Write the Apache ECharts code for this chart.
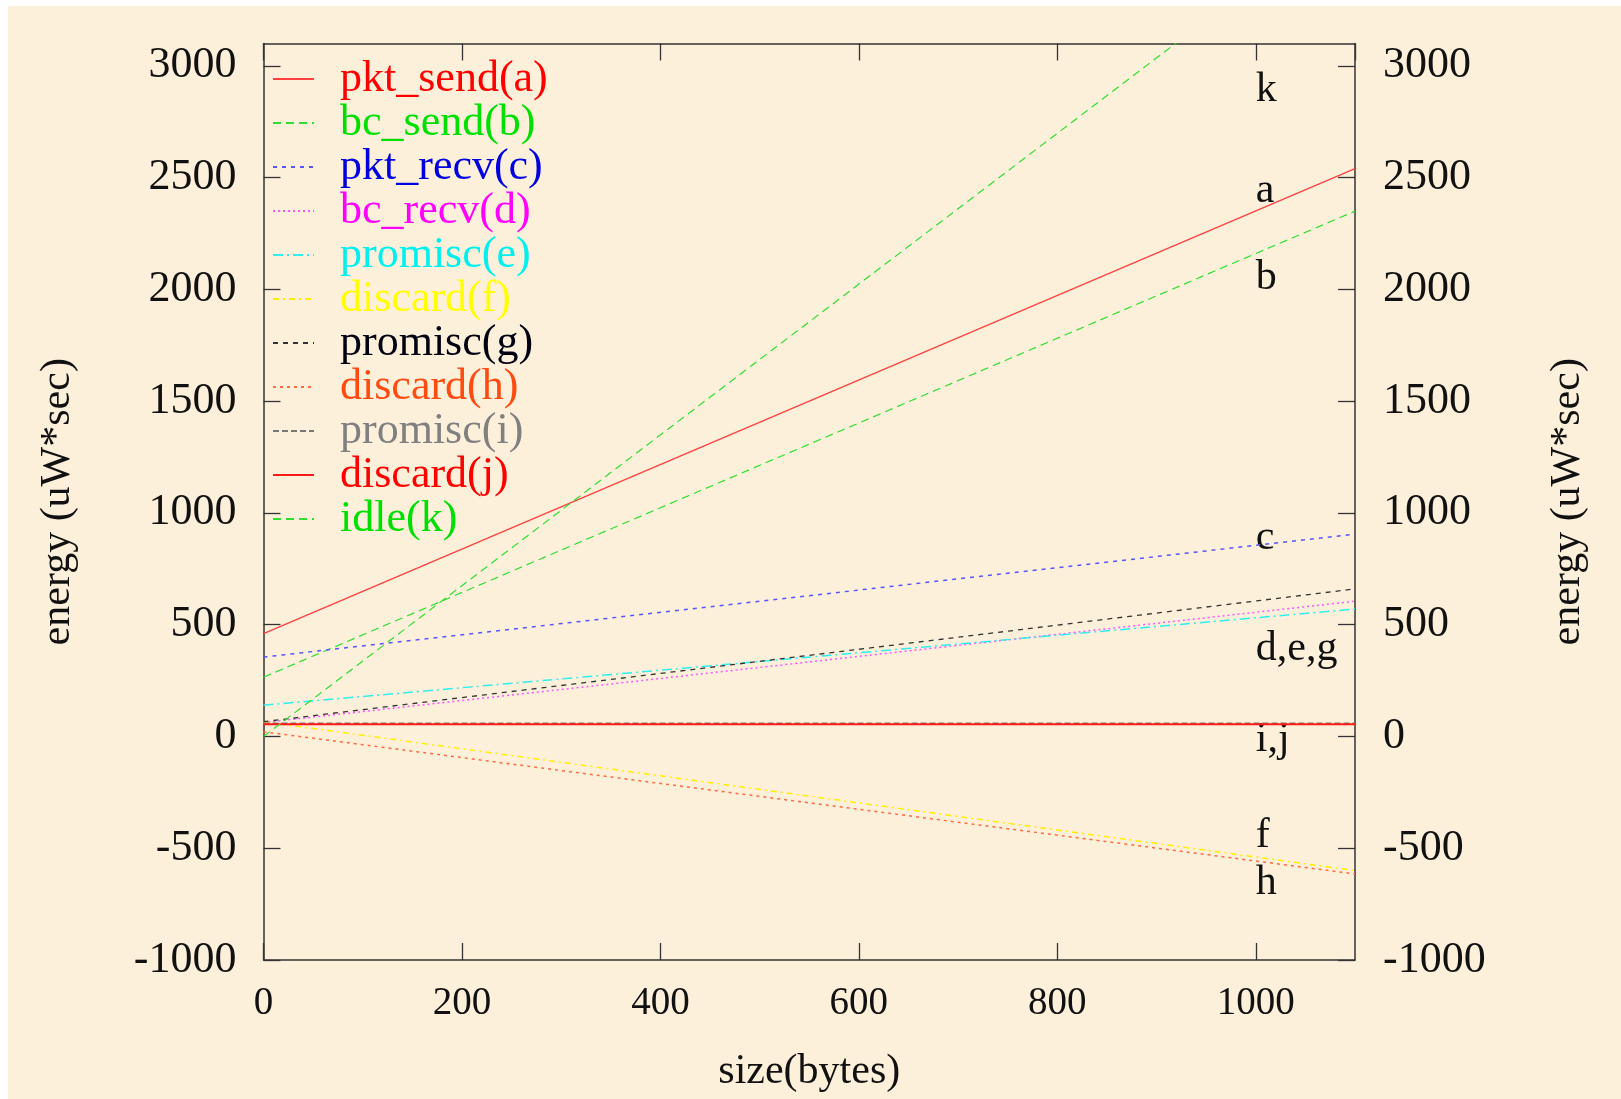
<!DOCTYPE html>
<html>
<head>
<meta charset="utf-8">
<script src="https://cdn.jsdelivr.net/npm/echarts@6/dist/echarts.min.js"></script>
<style>
  html, body { margin: 0; padding: 0; background: #ffffff; }
  #chart { position: absolute; left: 8px; top: 6px; width: 1613px; height: 1093px; background: #fdf0db; }
</style>
</head>
<body>
<div id="chart"></div>
<script>
// x values (bytes) for the two ends of each straight line
const sizes = [0, 1100];

const names = ['pkt_send(a)', 'bc_send(b)', 'pkt_recv(c)', 'bc_recv(d)', 'promisc(e)', 'discard(f)',
  'promisc(g)', 'discard(h)', 'promisc(i)', 'discard(j)', 'idle(k)'];

// energy (uW*sec) at size 0 and at size 1100
const pktSend = [460, 2540];
const bcSend = [265, 2350];
const pktRecv = [355, 905];
const bcRecv = [62, 605];
const promiscE = [140, 570];
const discardF = [66, -600];
const promiscG = [66, 660];
const discardH = [21, -615];
const promiscI = [59, 59];
const discardJ = [55, 55];
const idle = [0, 3710];

const lineColors = ['#ff4040', '#30dd30', '#5555ff', '#ff55ff', '#30eeee', '#ffee00',
  '#333333', '#ff6a40', '#777777', '#ff1a1a', '#30dd30'];
const textColors = ['#ff0000', '#00e000', '#0000e0', '#ff00ff', '#00f0f0', '#ffff00',
  '#000010', '#ff4a10', '#808080', '#ff0000', '#00e000'];
const dashes = ['solid', [8, 5], [4, 5], [2, 3], [10, 4, 2, 4], [6, 4, 2, 4],
  [5, 5], [3, 4], [6, 3], 'solid', [8, 5]];
const widths = [1.3, 1.2, 1.5, 1.5, 1.5, 1.5, 1.3, 1.5, 1.3, 2, 1.2];

// labels written inside the plot, in data coordinates
const notes = [
  [1000, 2890, 'k'], [1000, 2440, 'a'], [1000, 2050, 'b'], [1000, 890, 'c'],
  [1000, 390, 'd,e,g'], [1000, -15, 'i,j'], [1000, -445, 'f'], [1000, -655, 'h']
];

const xTicks = { min: 0, max: 1100, interval: 200 };
const yTicks = { min: -1000, max: 3100, interval: 500 };

const font = 'Liberation Serif';
const frame = { show: true, onZero: false, lineStyle: { color: '#333333', width: 1.5 } };
const inTick = { show: true, inside: true, length: 17, lineStyle: { color: '#333333', width: 1.3 } };
const plain = v => String(v);

const allValues = [pktSend, bcSend, pktRecv, bcRecv, promiscE, discardF, promiscG, discardH, promiscI, discardJ, idle];

const series = allValues.map((vals, i) => ({
  name: names[i],
  type: 'line',
  data: sizes.map((s, j) => [s, vals[j]]),
  showSymbol: false,
  symbol: 'none',
  color: lineColors[i],
  lineStyle: { color: lineColors[i], width: widths[i], type: dashes[i] },
  clip: true,
  silent: true,
}));

series.push({
  type: 'scatter',
  data: notes,
  symbolSize: 0,
  silent: true,
  itemStyle: { opacity: 1 },
  label: {
    show: true,
    position: 'right',
    distance: 0,
    formatter: p => p.value[2],
    color: '#111111',
    opacity: 1,
    fontFamily: font,
    fontSize: 42,
  },
});

const chart = echarts.init(document.getElementById('chart'));
chart.setOption({
  animation: false,
  backgroundColor: '#fdf0db',
  grid: { left: 255.5, top: 37.5, right: 266, bottom: 139 },
  legend: {
    orient: 'vertical',
    left: 259,
    top: 46,
    itemWidth: 41,
    itemHeight: 14,
    itemGap: 0,
    selectedMode: false,
    itemStyle: { opacity: 0 },
    data: names.map((n, i) => ({ name: n, textStyle: { color: textColors[i] } })),
    textStyle: { fontFamily: font, fontSize: 44, lineHeight: 43.3, padding: [0, 0, 0, 21] },
  },
  xAxis: [
    {
      type: 'value', position: 'bottom', ...xTicks,
      name: 'size(bytes)', nameLocation: 'middle', nameGap: 91,
      nameTextStyle: { fontFamily: font, fontSize: 42, color: '#111111' },
      axisLine: frame, axisTick: inTick, splitLine: { show: false },
      axisLabel: { fontFamily: font, fontSize: 39, color: '#111111', margin: 24, showMaxLabel: false, formatter: plain },
    },
    {
      type: 'value', position: 'top', ...xTicks,
      axisLine: frame, axisTick: inTick, splitLine: { show: false },
      axisLabel: { show: false },
    },
  ],
  yAxis: [
    {
      type: 'value', position: 'left', ...yTicks,
      name: 'energy (uW*sec)', nameLocation: 'middle', nameGap: 185, nameRotate: 90,
      nameTextStyle: { fontFamily: font, fontSize: 42, color: '#111111' },
      axisLine: frame, axisTick: inTick, splitLine: { show: false },
      axisLabel: { fontFamily: font, fontSize: 44, color: '#111111', margin: 27, showMaxLabel: false, formatter: plain },
    },
    {
      type: 'value', position: 'right', ...yTicks,
      name: 'energy (uW*sec)', nameLocation: 'middle', nameGap: 192, nameRotate: 90,
      nameTextStyle: { fontFamily: font, fontSize: 42, color: '#111111' },
      axisLine: frame, axisTick: inTick, splitLine: { show: false },
      axisLabel: { fontFamily: font, fontSize: 44, color: '#111111', margin: 28, showMaxLabel: false, formatter: plain },
    },
  ],
  series: series,
});
</script>
</body>
</html>
